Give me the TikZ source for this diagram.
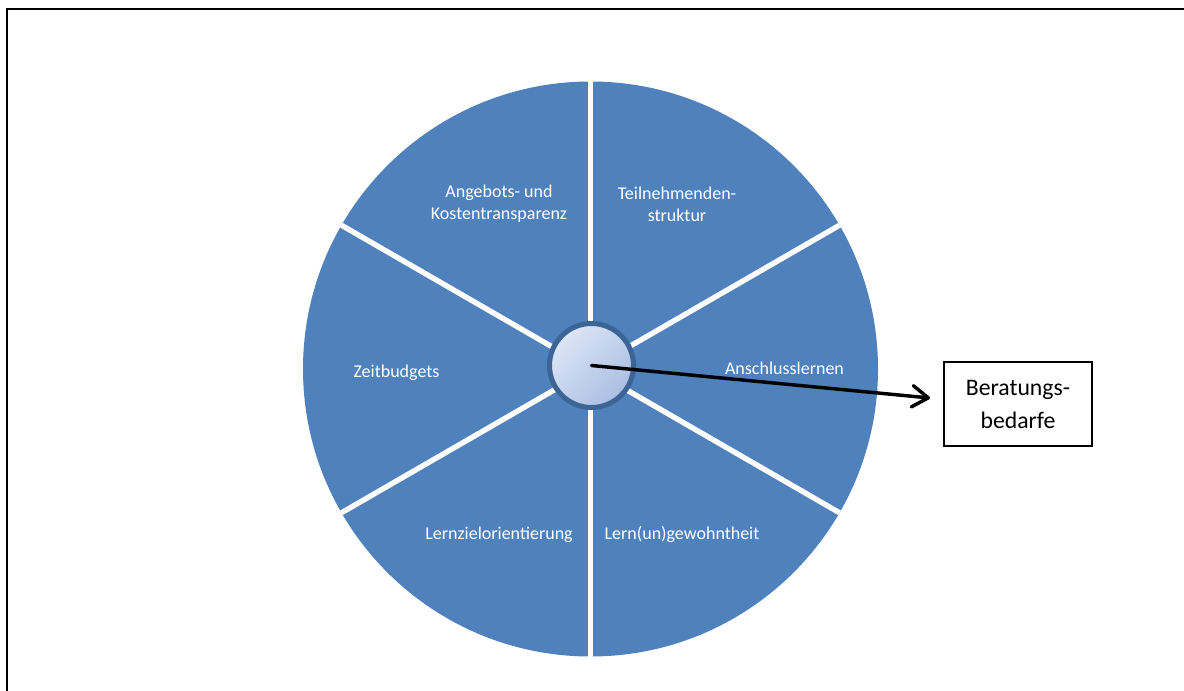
\documentclass[tikz,border=0pt]{standalone}
\usepackage{fontspec}
\setmainfont{Carlito}
\usetikzlibrary{arrows.meta}
\definecolor{segblue}{HTML}{4F81BD}
\definecolor{hubrim}{HTML}{3C6494}
\definecolor{hublight}{HTML}{DDE6F6}
\definecolor{hubdark}{HTML}{A9BEE3}
\begin{document}
\begin{tikzpicture}[x=0.75pt,y=-0.75pt,
  seglabel/.style={text=white, font=\fontsize{13.5}{16.5}\selectfont, align=center, inner sep=0pt},
  gapline/.style={white, line width=4pt},
  hubstyle/.style={circle, draw=hubrim, line width=3.75pt, minimum size=63pt, inner sep=0pt,
    top color=hublight, bottom color=hubdark, shading angle=45},
  resultbox/.style={draw, line width=1.3pt, minimum width=111pt, minimum height=63pt, inner sep=0pt,
    align=center, font=\fontsize{17.8}{24.75}\selectfont},
  pointer/.style={line width=2.6pt, line cap=round, -{Straight Barb[length=12pt,width=16pt,line cap=round,line join=round]}}]
\useasboundingbox (0,0) rectangle (1184,691);
\fill[white] (0,0) rectangle (1184,691);
% outer frame
\draw[line width=2pt, line join=miter] (7,700) -- (7,9) -- (1190,9);
% wheel with six sectors
\coordinate (c) at (590.5,369);
\fill[segblue] (c) circle[radius=215.625pt];
\foreach \a in {90,30,-30,-90,-150,150}
  \draw[gapline] (c) -- ++(\a:215.625pt);
% sector labels
\node[seglabel] (angebot) at (499,204) {Angebots- und\\Kostentransparenz};
\node[seglabel] (teiln) at (677,204) {Teilnehmenden-\\struktur};
\node[seglabel, anchor=base] (anschluss) at (784.5,374) {Anschlusslernen};
\node[seglabel, anchor=base] (zeit) at (396.5,377) {Zeitbudgets};
\node[seglabel, anchor=base] (lernziel) at (499,539) {Lernzielorientierung};
\node[seglabel, anchor=base] (gewohn) at (682,539) {Lern(un)gewohntheit};
% hub
\node[hubstyle] (hub) at (591.5,365.5) {};
% result box and pointer
\node[resultbox] (box) at (1018,404) {Beratungs-\\bedarfe};
\coordinate (tip) at (930,398);
\draw[pointer] (hub.center) -- (tip);
\end{tikzpicture}
\end{document}
